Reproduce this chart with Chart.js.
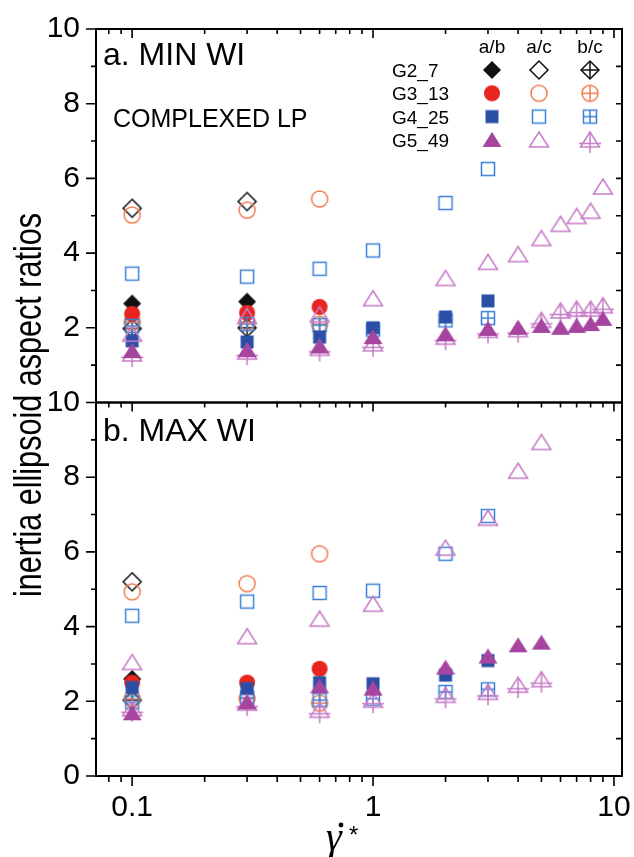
<!DOCTYPE html>
<html lang="en">
<head>
<meta charset="UTF-8">
<title>inertia ellipsoid aspect ratios</title>
<script src="https://cdn.jsdelivr.net/npm/chart.js@4"></script>
<style>
  html,body{margin:0;padding:0;background:#fff}
  .wrap{position:relative;width:634px;height:857px}
</style>
</head>
<body>
<div class="wrap"><canvas id="ratioChart" width="634" height="857"></canvas></div>
<script>
// values
const xTickLabels = ['0.1', '1', '10'];

// a. MIN WI (top panel)
const topG2x = [0.1, 0.3];
const topG2ab = [2.65, 2.7];
const topG2ac = [5.2, 5.38];
const topG2bc = [1.98, 2.0];
const topG3x = [0.1, 0.3, 0.6];
const topG3ab = [2.37, 2.4, 2.56];
const topG3ac = [5.02, 5.15, 5.45];
const topG3bc = [2.15, 2.15, 2.1];
const topG4x = [0.1, 0.3, 0.6, 1, 2, 3];
const topG4ab = [1.65, 1.62, 1.75, 2.0, 2.29, 2.72];
const topG4ac = [3.45, 3.37, 3.58, 4.07, 5.34, 6.25];
const topG4bc = [2.05, 2.1, 2.07, 1.95, 2.2, 2.26];
const topG5x = [0.1, 0.3, 0.6, 1, 2, 3, 4, 5, 6, 7, 8, 9];
const topG5ab = [1.38, 1.4, 1.5, 1.75, 1.83, 1.97, 2.0, 2.05, 2.0, 2.05, 2.1, 2.24];
const topG5ac = [1.83, 2.3, 2.35, 2.78, 3.32, 3.75, 3.96, 4.39, 4.77, 4.98, 5.12, 5.77];
const topG5bc = [1.3, 1.35, 1.45, 1.57, 1.75, 1.93, 1.95, 2.2, 2.45, 2.5, 2.5, 2.59];

// b. MAX WI (bottom panel)
const botG2x = [0.1];
const botG2ab = [2.6];
const botG2ac = [5.2];
const botG2bc = [2.03];
const botG3x = [0.1, 0.3, 0.6];
const botG3ab = [2.5, 2.5, 2.87];
const botG3ac = [4.93, 5.15, 5.95];
const botG3bc = [2.07, 2.07, 1.95];
const botG4x = [0.1, 0.3, 0.6, 1, 2, 3];
const botG4ab = [2.37, 2.34, 2.5, 2.47, 2.7, 3.09];
const botG4ac = [4.29, 4.67, 4.9, 4.96, 5.95, 6.96];
const botG4bc = [1.97, 2.1, 2.03, 2.07, 2.25, 2.32];
const botG5x = [0.1, 0.3, 0.6, 1, 2, 3, 4, 5];
const botG5ab = [1.68, 1.97, 2.4, 2.34, 2.9, 3.2, 3.5, 3.57];
const botG5ac = [3.04, 3.73, 4.2, 4.6, 6.1, 6.9, 8.16, 8.93];
const botG5bc = [1.8, 1.95, 1.76, 2.03, 2.16, 2.24, 2.43, 2.58];

const FONT = '"Liberation Sans", Arial, sans-serif';

// marker images (used as pointStyle and in the legend)
function makeMarker(shape, filled, color, cross) {
    const c = document.createElement('canvas');
    c.width = 30; c.height = 30;
    const g = c.getContext('2d');
    const m = 15;
    g.strokeStyle = color; g.fillStyle = color; g.lineWidth = 1.5;
    g.beginPath();
    if (shape === 'diamond') { g.moveTo(m, m - 9); g.lineTo(m + 9, m); g.lineTo(m, m + 9); g.lineTo(m - 9, m); g.closePath(); }
    else if (shape === 'circle') { g.arc(m, m, 8, 0, Math.PI * 2); }
    else if (shape === 'square') { g.rect(m - 6.5, m - 6.5, 13, 13); }
    else { g.moveTo(m, m - 8); g.lineTo(m + 9.5, m + 7); g.lineTo(m - 9.5, m + 7); g.closePath(); }
    if (filled) g.fill(); else g.stroke();
    if (cross) {
        g.beginPath();
        if (shape === 'triangle') {
            g.moveTo(m - 11, m + 3.5); g.lineTo(m + 11, m + 3.5);
            g.moveTo(m, m - 8); g.lineTo(m, m + 13);
        } else {
            const r = shape === 'square' ? 6.5 : shape === 'circle' ? 8 : 9;
            g.moveTo(m - r, m); g.lineTo(m + r, m);
            g.moveTo(m, m - r); g.lineTo(m, m + r);
        }
        g.stroke();
    }
    return c;
}

const groups = [
    { name: 'G2_7', shape: 'diamond', solid: '#111111', light: '#111111' },
    { name: 'G3_13', shape: 'circle', solid: '#e8241f', light: '#f27b52' },
    { name: 'G4_25', shape: 'square', solid: '#2c4fa6', light: '#3c80d6' },
    { name: 'G5_49', shape: 'triangle', solid: '#a6459f', light: '#c67cc8' }
];
groups.forEach(gr => {
    gr.ab = makeMarker(gr.shape, true, gr.solid, false);
    gr.ac = makeMarker(gr.shape, false, gr.light, false);
    gr.bc = makeMarker(gr.shape, false, gr.light, true);
});

const panelData = {
    yTop: [[topG2x, topG2ab, topG2ac, topG2bc], [topG3x, topG3ab, topG3ac, topG3bc], [topG4x, topG4ab, topG4ac, topG4bc], [topG5x, topG5ab, topG5ac, topG5bc]],
    yBot: [[botG2x, botG2ab, botG2ac, botG2bc], [botG3x, botG3ab, botG3ac, botG3bc], [botG4x, botG4ab, botG4ac, botG4bc], [botG5x, botG5ab, botG5ac, botG5bc]]
};

const datasets = [];
Object.keys(panelData).forEach(axis => {
    panelData[axis].forEach((set, gi) => {
        const gr = groups[gi];
        const [xs, ab, ac, bc] = set;
        [[ac, gr.ac, 'a/c'], [bc, gr.bc, 'b/c'], [ab, gr.ab, 'a/b']].forEach(([ys, img, lbl]) => {
            datasets.push({
                label: gr.name + ' ' + lbl,
                data: xs.map((x, i) => ({ x: x, y: ys[i] })),
                yAxisID: axis,
                pointStyle: img,
                pointRadius: 9,
                showLine: false
            });
        });
    });
});
// later datasets on top
datasets.forEach((d, i) => { d.order = 1000 - i; });

function logTicks(min, max) {
    const out = [];
    for (let e = -2; e <= 1; e++) {
        for (let k = 1; k <= 9; k++) {
            const v = k * Math.pow(10, e);
            if (v >= min && v <= max) out.push({ v: v, major: k === 1 });
        }
    }
    return out;
}

const decor = {
    id: 'decor',
    afterDraw(chart) {
        const ctx = chart.ctx, a = chart.chartArea;
        const xs = chart.scales.x, yt = chart.scales.yTop, yb = chart.scales.yBot;
        const lt = logTicks(xs.min, xs.max);
        ctx.save();
        ctx.strokeStyle = '#000';
        ctx.lineWidth = 2;
        [yt, yb].forEach(s => ctx.strokeRect(a.left, s.top, a.right - a.left, s.bottom - s.top));

        ctx.lineWidth = 1.6;
        ctx.beginPath();
        [yt, yb].forEach(s => {
            for (let v = 0; v <= 10; v++) {
                const py = s.getPixelForValue(v);
                const len = v % 2 === 0 ? 10 : 5;
                ctx.moveTo(a.left - len, py); ctx.lineTo(a.left, py);
                if (v > 0 && v < 10) { ctx.moveTo(a.right, py); ctx.lineTo(a.right - 6, py); }
            }
            lt.forEach(t => {
                const px = xs.getPixelForValue(t.v);
                ctx.moveTo(px, s.top); ctx.lineTo(px, s.top + (t.major ? 9 : 5));
            });
        });
        lt.forEach(t => {
            const px = xs.getPixelForValue(t.v);
            ctx.moveTo(px, a.bottom); ctx.lineTo(px, a.bottom + (t.major ? 10 : 6));
        });
        ctx.stroke();

        // panel labels
        ctx.fillStyle = '#000';
        ctx.textAlign = 'left';
        ctx.textBaseline = 'alphabetic';
        ctx.font = '32px ' + FONT;
        ctx.fillText('a. MIN WI', a.left + 7, yt.top + 36);
        ctx.fillText('b. MAX WI', a.left + 7, yb.top + 38);
        ctx.font = '25px ' + FONT;
        ctx.fillText('COMPLEXED LP', a.left + 17, yt.top + 98);

        // legend
        const cols = [492, 539, 590];
        ctx.font = '19px ' + FONT;
        ctx.textAlign = 'center';
        ['a/b', 'a/c', 'b/c'].forEach((h, i) => ctx.fillText(h, cols[i], 53));
        groups.forEach((gr, r) => {
            const cy = 70 + r * 23.3;
            ctx.textAlign = 'left';
            ctx.fillText(gr.name, 392, cy + 7);
            [gr.ab, gr.ac, gr.bc].forEach((img, i) => ctx.drawImage(img, cols[i] - img.width / 2, cy - img.height / 2));
        });

        // y title
        ctx.save();
        ctx.translate(31, 405);
        ctx.rotate(-Math.PI / 2);
        ctx.font = '38px ' + FONT;
        const t = 'inertia ellipsoid aspect ratios';
        const w = ctx.measureText(t).width;
        ctx.scale(384 / w, 1);
        ctx.textAlign = 'center';
        ctx.textBaseline = 'middle';
        ctx.fillText(t, 0, 0);
        ctx.restore();

        // x title: gamma-dot star
        ctx.textAlign = 'left';
        ctx.textBaseline = 'alphabetic';
        ctx.font = 'italic 40px "Liberation Serif", "DejaVu Serif", serif';
        ctx.fillText('\u03B3', 326, 850);
        ctx.beginPath();
        ctx.arc(341, 825, 2.4, 0, Math.PI * 2);
        ctx.fill();
        ctx.font = '24px ' + FONT;
        ctx.fillText('*', 349, 843);
        ctx.restore();
    }
};

const yAxis = (weight, hideZero) => ({
    type: 'linear',
    position: 'left',
    stack: 'panels',
    stackWeight: 1,
    weight: weight,
    min: 0,
    max: 10,
    grid: { display: false, drawTicks: false },
    border: { display: false },
    ticks: {
        stepSize: 2,
        padding: 16,
        color: '#000',
        font: { family: FONT, size: 30 },
        callback: v => (hideZero && v === 0) ? '' : String(v)
    },
    afterFit(s) { s.width = 96; s.paddingTop = 0; s.paddingBottom = 0; }
});

new Chart(document.getElementById('ratioChart'), {
    type: 'scatter',
    data: { datasets: datasets },
    options: {
        responsive: false,
        animation: false,
        layout: { padding: { left: 0, right: 12, top: 29, bottom: 0 } },
        plugins: { legend: { display: false }, tooltip: { enabled: false } },
        scales: {
            x: {
                type: 'logarithmic',
                position: 'bottom',
                min: 0.0708,
                max: 10.8,
                grid: { display: false, drawTicks: false },
                border: { display: false },
                ticks: {
                    autoSkip: false,
                    maxRotation: 0,
                    padding: 14,
                    color: '#000',
                    font: { family: FONT, size: 30 },
                    callback: v => {
                        const e = Math.log10(v);
                        if (Math.abs(e - Math.round(e)) > 1e-6) return '';
                        return xTickLabels[Math.round(e) + 1] || '';
                    }
                },
                afterFit(s) { s.height = 81; s.paddingLeft = 0; s.paddingRight = 0; }
            },
            yTop: yAxis(2, true),
            yBot: yAxis(1, false)
        }
    },
    plugins: [decor]
});
</script>
</body>
</html>
